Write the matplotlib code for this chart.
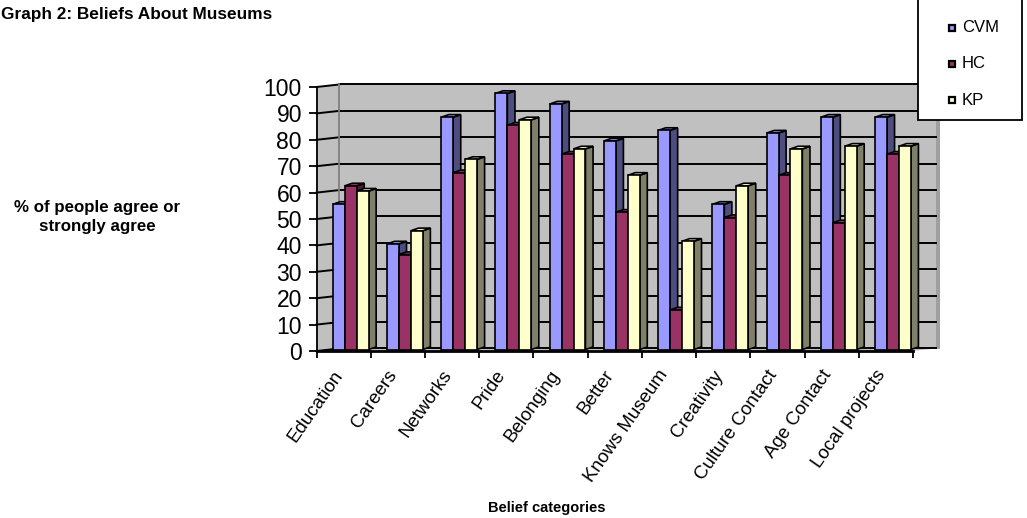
import numpy as np
import matplotlib
matplotlib.use("Agg")
import matplotlib.pyplot as plt
from matplotlib.patches import Polygon, Rectangle
from matplotlib.lines import Line2D
from matplotlib.transforms import ScaledTranslation

plt.rcParams['font.family'] = ['Liberation Sans', 'DejaVu Sans']

# survey results, % agreeing or strongly agreeing
categories = ["Education", "Careers", "Networks", "Pride", "Belonging", "Better",
              "Knows Museum", "Creativity", "Culture Contact", "Age Contact", "Local projects"]
series = ["CVM", "HC", "KP"]
cvm = [55, 40, 88, 97, 93, 79, 83, 55, 82, 88, 88]
hc = [62, 36, 67, 85, 74, 52, 15, 50, 66, 48, 74]
kp = [60, 45, 72, 87, 76, 66, 41, 62, 76, 77, 77]
yticks = list(range(0, 101, 10))

front_cols = ["#9999FF", "#993366", "#FFFFCC"]
side_cols = ["#4D4D80", "#4D1A33", "#80806A"]

W, H = 1027, 518
fig = plt.figure(figsize=(W / 100, H / 100), dpi=100)

def fx(px):
    return px / W

def fy(py):
    return 1 - py / H

# front plane of the plot
ax = fig.add_axes([fx(316.5), fy(351), (913 - 316.5) / W, 264 / H])
n = len(categories)
ax.set_xlim(0, n)
ax.set_ylim(0, 100)

# depth offsets (data units)
wall_dx, wall_dy = 0.42, 0.95
bar_ox, bar_oy = 0.30, 0.55
bar_w = 0.22
bar_dx, bar_dy = 0.14, 1.0

wall_grey = "#C0C0C0"
# floor, left wall, back wall
floor = Polygon([(0, 0), (n, 0), (n + wall_dx, wall_dy), (wall_dx, wall_dy)],
                closed=True, fc=wall_grey, ec="none", clip_on=False, zorder=0)
left_wall = Polygon([(0, 0), (wall_dx, wall_dy), (wall_dx, 100 + wall_dy), (0, 100)],
                    closed=True, fc=wall_grey, ec="none", clip_on=False, zorder=0)
back_wall = Polygon([(wall_dx, wall_dy), (n + wall_dx, wall_dy),
                     (n + wall_dx, 100 + wall_dy), (wall_dx, 100 + wall_dy)],
                    closed=True, fc=wall_grey, ec="none", clip_on=False, zorder=0)
for p in (floor, left_wall, back_wall):
    ax.add_patch(p)
# right edge shading of the back wall
ax.add_patch(Polygon([(n + wall_dx, wall_dy - 0.3), (n + wall_dx + 0.07, wall_dy - 0.3),
                      (n + wall_dx + 0.07, 92 + wall_dy), (n + wall_dx, 92 + wall_dy)],
                     closed=True, fc="#A0A0A0", ec="none", clip_on=False, zorder=0))

# gridlines on back and side walls
for v in yticks:
    ax.plot([wall_dx, n + wall_dx], [v + wall_dy, v + wall_dy], color="black",
            lw=1.4, clip_on=False, zorder=1)
    ax.plot([0, wall_dx], [v, v + wall_dy], color="black", lw=1.4,
            clip_on=False, zorder=1)
ax.plot([wall_dx, wall_dx], [wall_dy, 100 + wall_dy], color="#808080", lw=1.3,
        clip_on=False, zorder=1)

# 3-D style columns: front face, right side, top
z = 2
for i in range(n):
    for j, vals in enumerate((cvm, hc, kp)):
        v = vals[i]
        x0 = i + bar_ox + j * bar_w
        x1 = x0 + bar_w
        b = bar_oy
        side = Polygon([(x1, b), (x1 + bar_dx, b + bar_dy), (x1 + bar_dx, b + v + bar_dy), (x1, b + v)],
                       closed=True, fc=side_cols[j], ec="black", lw=1.2, clip_on=False, zorder=z)
        top = Polygon([(x0, b + v), (x1, b + v), (x1 + bar_dx, b + v + bar_dy), (x0 + bar_dx, b + v + bar_dy)],
                      closed=True, fc=front_cols[j], ec="black", lw=1.2, clip_on=False, zorder=z)
        ax.add_patch(side)
        ax.add_patch(top)
        ax.bar(x0, v, width=bar_w, bottom=b, align="edge", color=front_cols[j],
               edgecolor="black", linewidth=1.2, zorder=z + 0.5, clip_on=False)
        z += 1

for s in ("top", "right"):
    ax.spines[s].set_visible(False)
ax.spines["left"].set_linewidth(1.3)
ax.spines["bottom"].set_linewidth(2.0)
ax.spines["left"].set_zorder(200)
ax.spines["bottom"].set_zorder(200)
ax.set_facecolor("none")

ax.set_yticks(yticks)
ax.set_yticklabels([str(v) for v in yticks], fontsize=16.5)
ax.tick_params(axis="y", direction="out", length=5.5, width=1.3, pad=5)

ax.set_xticks(np.arange(n) + 0.5)
ax.set_xticklabels(categories, fontsize=13.5, rotation=55, ha="right", va="center",
                   rotation_mode="anchor")
ax.set_xticks(np.arange(n + 1), minor=True)
ax.tick_params(axis="x", which="major", length=0, pad=15)
ax.tick_params(axis="x", which="minor", direction="out", length=5, width=1.3)
shift = ScaledTranslation(-4 / 100, 0, fig.dpi_scale_trans)
for lab in ax.get_xticklabels():
    lab.set_transform(lab.get_transform() + shift)

# titles
fig.text(fx(1), fy(14), "Graph 2: Beliefs About Museums", fontsize=12.4,
         fontweight="bold", ha="left", va="center")
fig.text(fx(97), fy(217), "% of people agree or\nstrongly agree", fontsize=12.2,
         fontweight="bold", ha="center", va="center", linespacing=1.35)
fig.text(fx(547), fy(508), "Belief categories", fontsize=10.5,
         fontweight="bold", ha="center", va="center")

# legend box
fig.add_artist(Rectangle((fx(918), fy(120)), (1022 - 918) / W, 122 / H,
                         transform=fig.transFigure, fc="white", ec="black",
                         lw=1.3, zorder=300))
for k, name in enumerate(series):
    ly = 28 + 36 * k
    fig.add_artist(Line2D([fx(952)], [fy(ly)], marker="s", markersize=5,
                          markerfacecolor=front_cols[k], markeredgecolor="black",
                          markeredgewidth=1.6, transform=fig.transFigure, zorder=301))
    fig.text(fx(962), fy(ly), name, fontsize=12, ha="left", va="center", zorder=302)

fig.savefig("out.png", dpi=100)
